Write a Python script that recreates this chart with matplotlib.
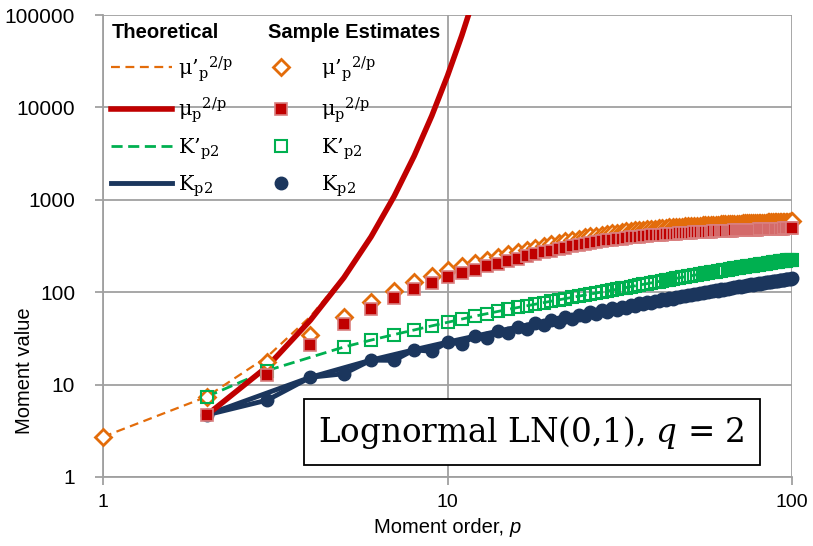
import numpy as np
import matplotlib.pyplot as plt
from matplotlib.lines import Line2D

# theoretical curves (integer orders)
p_theory = [1, 2, 3, 4, 5, 6, 7, 8, 9, 10, 11, 12]
raw_theory = [2.718, 7.389, 20.09, 54.60, 148.4, 403.4, 1096.6, 2981.0,
              8103.1, 22026, 59874, 162755]
central_theory = [None, 4.67, 15.7, 49.86, 143.4, 398.2, 1091.3, 2975.5,
                  8097.6, 22020, 59860, 162720]

# sample estimates, p = 1..100
p_est = list(range(1, 101))
raw_est = [
    2.72, 7.4, 17.7, 34, 54, 78, 104, 128, 150, 172,
    190, 208, 225, 241, 257, 273, 289, 304, 318, 332,
    345, 357, 369, 380, 391, 401, 410, 419, 427, 435,
    442, 449, 455, 461, 467, 472, 477, 481, 485, 489,
    493, 497, 500, 503, 506, 509, 512, 514, 517, 519,
    521, 523, 525, 527, 529, 531, 533, 535, 537, 538,
    540, 541, 543, 544, 546, 547, 549, 550, 551, 553,
    554, 555, 556, 558, 559, 560, 561, 562, 563, 564,
    565, 566, 567, 568, 569, 570, 571, 572, 573, 574,
    575, 576, 577, 578, 579, 580, 581, 582, 583, 584]
central_est = [
    None, 4.7, 12.7, 26.8, 45, 66, 87, 108, 127, 146,
    161, 176, 191, 204, 218, 231, 245, 258, 270, 282,
    293, 303, 313, 323, 332, 340, 348, 356, 363, 369,
    375, 381, 386, 391, 396, 400, 404, 408, 411, 415,
    418, 421, 424, 426, 429, 431, 434, 436, 438, 440,
    442, 444, 445, 447, 449, 450, 452, 453, 455, 456,
    457, 458, 460, 461, 462, 463, 465, 466, 467, 468,
    469, 470, 471, 472, 473, 474, 475, 476, 477, 478,
    479, 480, 480, 481, 482, 483, 484, 485, 485, 486,
    487, 488, 488, 489, 490, 491, 491, 492, 493, 494]
kprime_est = [
    None, 7.4, 14.2, None, 25.5, 30.3, 34.8, 39.0, 43.2, 47.2,
    51.2, 55.0, 58.5, 61.9, 65.2, 68.3, 71.3, 74.2, 77.1, 79.9,
    82.6, 85.3, 87.9, 90.5, 93.0, 95.5, 98.0, 100.4, 102.8, 105.2,
    107.6, 110.0, 112.4, 114.8, 117.1, 119.4, 121.7, 123.9, 126.1, 128.3,
    130.5, 132.7, 134.8, 136.9, 139.0, 141.0, 143.0, 145.0, 147.0, 149.0,
    150.9, 152.8, 154.7, 156.6, 158.5, 160.3, 162.1, 163.9, 165.7, 167.4,
    169.1, 170.8, 172.5, 174.2, 175.9, 177.5, 179.1, 180.7, 182.3, 183.9,
    185.5, 187.0, 188.5, 190.0, 191.5, 193.0, 194.5, 196.0, 197.4, 198.8,
    200.2, 201.6, 203.0, 204.4, 205.8, 207.2, 208.5, 209.8, 211.1, 212.4,
    213.7, 215.0, 216.3, 217.6, 218.9, 220.2, 221.5, 222.8, 224.0, 225.2]
k_est = [
    None, 4.7, 6.8, 12.0, 13.1, 18.4, 18.3, 23.8, 22.9, 28.8,
    27.4, 33.4, 31.6, 37.8, 35.8, 42.0, 39.9, 46.0, 43.8, 49.8,
    47.6, 53.4, 51.2, 56.9, 54.8, 60.3, 58.2, 63.6, 61.6, 66.8,
    64.8, 69.9, 68.0, 72.9, 71.1, 75.8, 74.1, 78.6, 76.9, 81.3,
    79.8, 84.0, 82.5, 86.6, 85.1, 89.1, 87.7, 91.6, 90.2, 94.0,
    92.7, 96.4, 95.1, 98.7, 97.5, 101.0, 99.8, 103.2, 102.1, 105.4,
    104.3, 107.5, 106.5, 109.6, 108.6, 111.6, 110.7, 113.6, 112.7, 115.6,
    114.7, 117.5, 116.7, 119.4, 118.6, 121.3, 120.5, 123.1, 122.3, 124.9,
    124.1, 126.7, 125.9, 128.4, 127.6, 130.1, 129.3, 131.8, 131.0, 133.5,
    132.7, 135.1, 134.3, 136.7, 135.9, 138.3, 137.5, 139.9, 139.1, 141.5]

ORANGE = '#E36C0A'
RED = '#C00000'
RED_EDGE = '#D98080'
GREEN = '#00B050'
NAVY = '#1B365D'
GRID = '#A0A0A0'

plt.rcParams['mathtext.fontset'] = 'dejavuserif'

fig = plt.figure(figsize=(8.13, 5.46), dpi=100)
ax = fig.add_axes([0.1267, 0.1264, 0.8475, 0.8461])
ax.set_xscale('log')
ax.set_yscale('log')
ax.set_xlim(1, 100)
ax.set_ylim(1, 1e5)

p = np.array(p_est, dtype=float)
raw = np.array(raw_est, dtype=float)
cen = np.array(central_est, dtype=float)
kp = np.array(kprime_est, dtype=float)
k = np.array(k_est, dtype=float)

# theoretical lines
ax.plot(p_theory, raw_theory, color=ORANGE, lw=1.6, ls=(0, (4, 2.5)), zorder=3)
ax.plot(p_theory[1:], central_theory[1:], color=RED, lw=4, zorder=4)
ok = ~np.isnan(kp)
ax.plot(p[ok], kp[ok], color=GREEN, lw=2, ls=(0, (4, 2)), zorder=3)
ok = ~np.isnan(k)
ax.plot(p[ok], k[ok], color=NAVY, lw=3.5, zorder=3)
ax.plot(p[1::2], k[1::2], color=NAVY, lw=3.5, zorder=3)

# sample estimates
mk_raw = dict(ls='none', marker='D', ms=8, mfc='white', mec=ORANGE, mew=2)
mk_cen = dict(ls='none', marker='s', ms=8.5, mfc=RED, mec=RED_EDGE, mew=1.2)
mk_kp = dict(ls='none', marker='s', ms=9, mfc='none', mec=GREEN, mew=1.5)
mk_k = dict(ls='none', marker='o', ms=9, mfc=NAVY, mec=NAVY)
ax.plot(p, raw, zorder=5, clip_on=False, **mk_raw)
ax.plot(p, cen, zorder=6, clip_on=False, **mk_cen)
ax.plot(p, kp, zorder=5, clip_on=False, **mk_kp)
ax.plot(p, k, zorder=5, clip_on=False, **mk_k)

# axes styling
ax.grid(True, color=GRID, lw=1.3)
ax.set_axisbelow(True)
for s in ['top', 'right']:
    ax.spines[s].set_visible(False)
for s in ['left', 'bottom']:
    ax.spines[s].set_color(GRID)
    ax.spines[s].set_linewidth(1.3)
ax.minorticks_off()
ax.set_xticks([1, 10, 100])
ax.set_xticklabels(['1', '10', '100'])
ax.set_yticks([1, 10, 100, 1000, 10000, 100000])
ax.set_yticklabels(['1', '10', '100', '1000', '10000', '100000'])
ax.tick_params(axis='both', color=GRID, width=1.3, length=6)
ax.tick_params(axis='y', pad=14, labelsize=15)
ax.tick_params(axis='x', pad=6, labelsize=14)
for t in ax.get_yticklabels() + ax.get_xticklabels():
    t.set_fontfamily('Liberation Sans')

ax.set_ylabel('Moment value', fontsize=14.5, family='Liberation Sans')
ax.yaxis.set_label_coords(-0.10, 0.23)
xl = fig.text(0.543, 0.024, 'Moment order, ', fontsize=14.5,
              family='Liberation Sans', ha='center', va='baseline')
ax.annotate('p', xy=(1, 0), xycoords=xl, fontsize=14.5, style='italic',
            family='Liberation Sans', ha='left', va='bottom')

# legends
theo_handles = [
    Line2D([], [], color=ORANGE, lw=1.6, ls=(0, (4, 2.5))),
    Line2D([], [], color=RED, lw=4),
    Line2D([], [], color=GREEN, lw=2, ls=(0, (4, 2))),
    Line2D([], [], color=NAVY, lw=3.5),
]
est_handles = [Line2D([], [], **mk_raw), Line2D([], [], **mk_cen),
               Line2D([], [], **mk_kp), Line2D([], [], **mk_k)]
labels = [r"$\mathregular{μ’_p{}^{2/p}}$", r"$\mathregular{μ_p{}^{2/p}}$",
          r"$\mathregular{K’_{p2}}$", r"$\mathregular{K_{p2}}$"]

leg_kw = dict(frameon=False, alignment='left', borderaxespad=0.2,
              borderpad=0.2, labelspacing=0.55,
              prop={'family': 'DejaVu Serif', 'size': 15},
              title_fontproperties={'family': 'Liberation Sans',
                                    'weight': 'bold', 'size': 14.5})
leg1 = ax.legend(theo_handles, labels, title='Theoretical', loc='upper left',
                 bbox_to_anchor=(0, 1), handlelength=2.9,
                 handletextpad=0.3, **leg_kw)
ax.add_artist(leg1)
leg2 = ax.legend(est_handles, labels, title='Sample Estimates',
                 loc='upper left', bbox_to_anchor=(0.228, 1),
                 handlelength=1.2, handletextpad=1.3, **leg_kw)
leg1.set_zorder(10)
leg2.set_zorder(10)

# distribution label
ax.text(0.622, 0.097, r'Lognormal LN(0,1), $q$ = 2', transform=ax.transAxes,
        fontsize=23.5, family='DejaVu Serif', ha='center', va='center',
        zorder=10,
        bbox=dict(boxstyle='square,pad=0.45', fc='white', ec='black', lw=1.3))

fig.savefig('out.png', dpi=100)
